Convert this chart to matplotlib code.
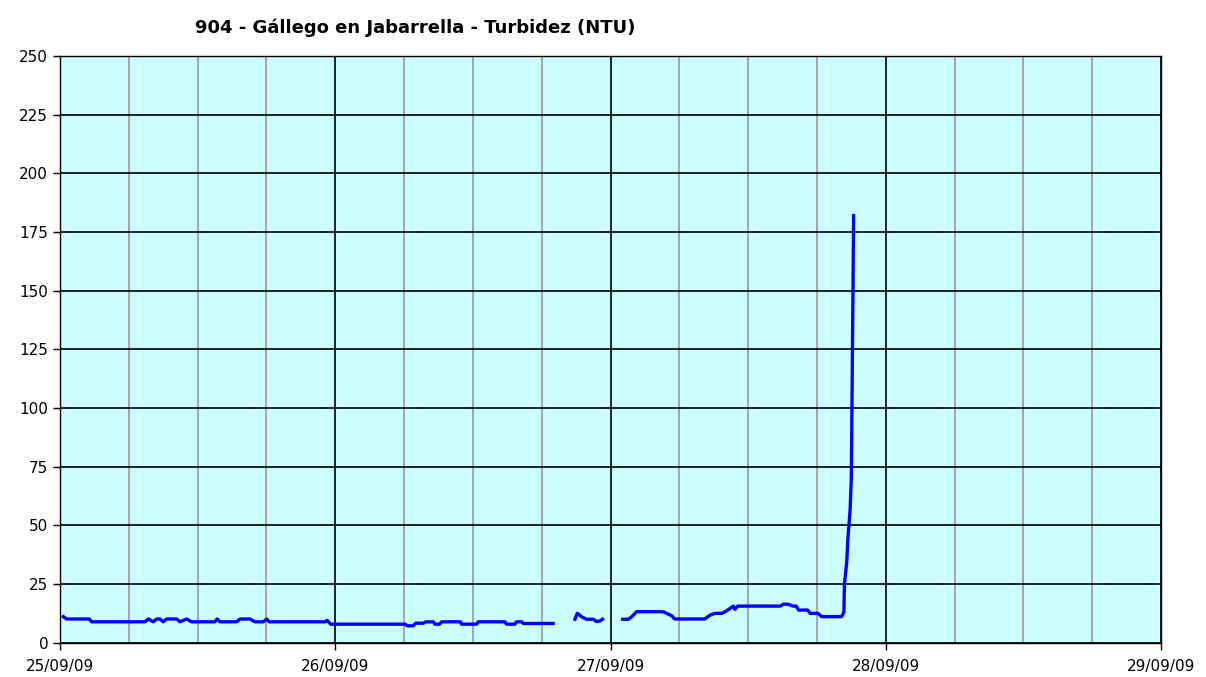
import matplotlib
matplotlib.use("Agg")
import matplotlib.pyplot as plt
import matplotlib.dates as mdates
import numpy as np
from datetime import datetime, timedelta

# hours since 25/09/09 00:00 (NaN marks a gap in the record)
hours = [
    0.29, 0.58, 2.56, 2.76, 7.41, 7.70, 8.13, 8.43, 8.72, 9.0, 9.3, 10.17, 10.46,
    11.04, 11.48, 13.5, 13.7, 13.95, 15.4, 15.7, 16.56, 17.0, 17.73, 18.02, 18.25,
    23.1, 23.3, 23.6, 30.08, 30.3, 30.8, 31.0, 31.67, 31.9, 32.55, 32.7, 33.1,
    33.28, 34.9, 35.02, 36.33, 36.47, 38.8, 38.94, 39.67, 39.8, 40.25, 40.4, 43.0,
    44.0,
    44.9, 45.1, 45.5, 45.9, 46.5, 46.8, 47.1, 47.3,
    48.2,
    49.06, 49.55, 49.84, 50.28, 52.6, 52.9, 53.33, 53.6, 56.2, 56.7, 57.1, 57.7,
    58.0, 58.4, 58.7, 58.85, 59.1, 62.8, 63.06, 63.5, 63.9, 64.2, 64.4, 65.2,
    65.4, 66.1, 66.4, 68.15, 68.35, 68.4, 68.6, 68.7, 68.9, 69.0, 69.2,
]
turbidez = [
    11.1, 10.1, 10.1, 8.9, 8.9, 10.1, 8.9, 10.1, 10.1, 8.9, 10.1, 10.1, 8.9,
    10.1, 8.9, 8.9, 10.1, 8.9, 8.9, 10.1, 10.1, 8.9, 8.9, 10.1, 8.9,
    8.9, 9.5, 7.9, 7.9, 7.2, 7.2, 8.3, 8.3, 8.9, 8.9, 7.9, 7.9,
    8.9, 8.9, 7.9, 7.9, 8.9, 8.9, 7.9, 7.9, 8.9, 8.9, 8.2, 8.2,
    np.nan,
    10.0, 12.5, 11.0, 10.0, 10.0, 9.0, 9.3, 10.0,
    np.nan,
    10.0, 10.0, 11.0, 13.2, 13.2, 12.5, 11.5, 10.1, 10.1, 11.8, 12.5, 12.5,
    13.2, 14.5, 15.6, 14.2, 15.6, 15.6, 16.4, 16.4, 15.6, 15.6, 13.9, 13.9,
    12.5, 12.5, 11.1, 11.1, 13.0, 25.0, 34.5, 44.4, 57.2, 70.6, 182.0,
]

start = datetime(2009, 9, 25)
days = [start + timedelta(days=d) for d in range(5)]
day_labels = ["25/09/09", "26/09/09", "27/09/09", "28/09/09", "29/09/09"]
y_ticks = list(range(0, 251, 25))

times = [start + timedelta(hours=h) for h in hours]

fig = plt.figure(figsize=(12.06, 6.77), dpi=100)
ax = fig.add_axes([60 / 1206, (677 - 642.7) / 677, 1101 / 1206, 586.7 / 677])
ax.set_facecolor("#CCFFFF")

ax.plot(times, turbidez, color="#0000FF", linewidth=2.4, zorder=3)

ax.set_xlim(days[0], days[-1])
ax.set_ylim(0, 250)
ax.set_yticks(y_ticks)
ax.set_xticks(days)
ax.set_xticklabels(day_labels)
ax.xaxis.set_minor_locator(mdates.HourLocator(byhour=[6, 12, 18]))

ax.grid(True, which="major", axis="both", color="black", linewidth=1.2, zorder=1)
ax.grid(True, which="minor", axis="x", color="#A8A8A8", linewidth=1.5, zorder=1)
ax.set_axisbelow(True)

ax.tick_params(axis="both", which="major", direction="out", length=5,
               width=1, labelsize=11, colors="black")
ax.tick_params(axis="x", which="major", pad=7)
ax.tick_params(axis="x", which="minor", length=0)
for sp in ax.spines.values():
    sp.set_color("black")
    sp.set_linewidth(1)

fig.text(415 / 1206, 1 - 28 / 677, "904 - Gállego en Jabarrella - Turbidez (NTU)",
         ha="center", va="center", fontsize=13, fontweight="bold")

plt.savefig("out.png", dpi=100)
